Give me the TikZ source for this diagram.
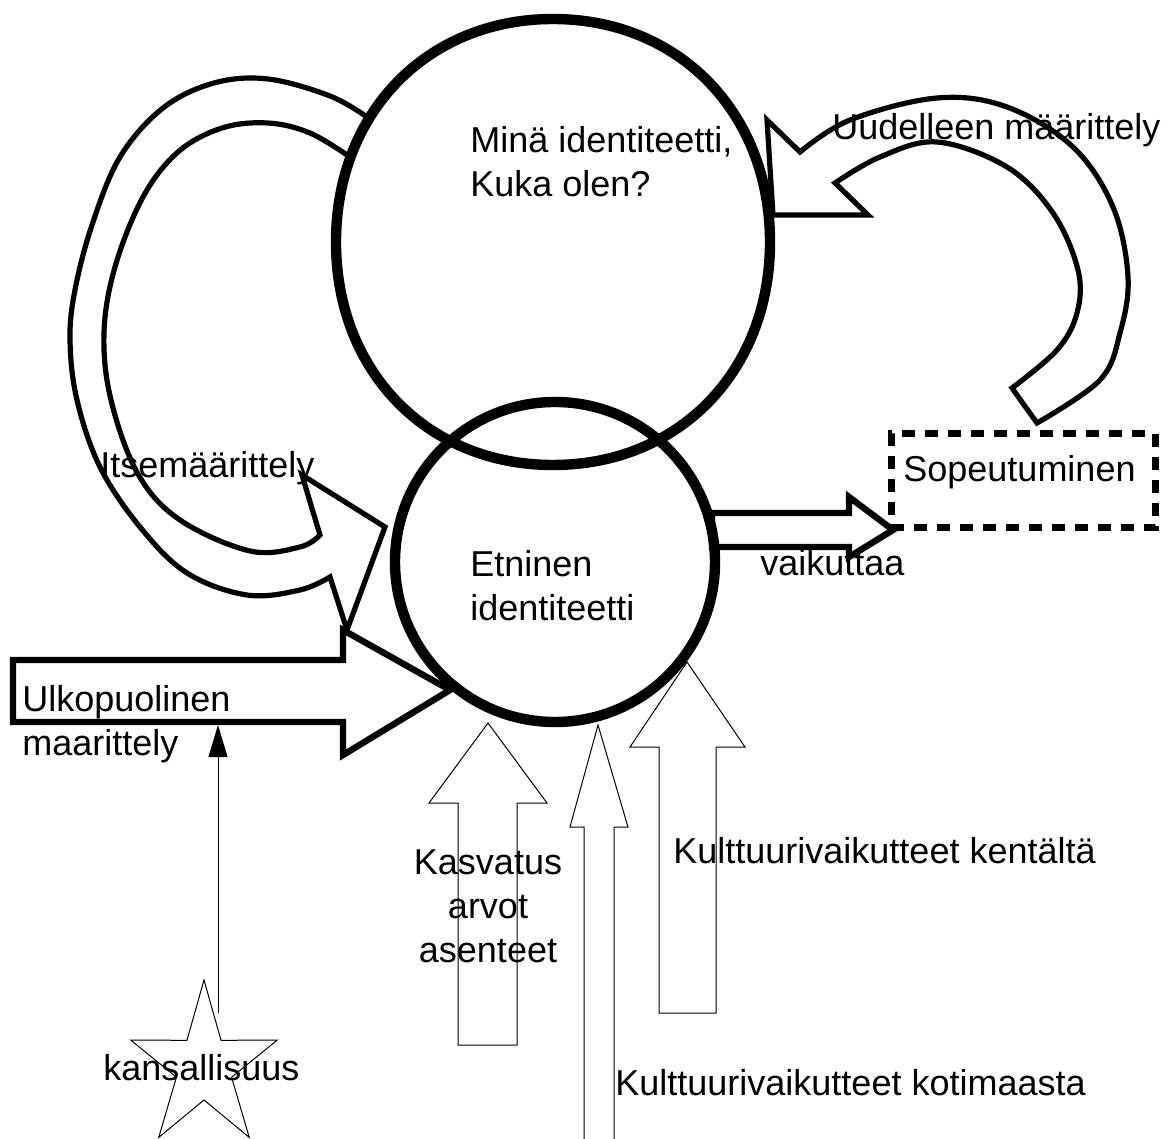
\documentclass[tikz,border=0pt]{standalone}
\usepackage{fontspec}
\setmainfont{Liberation Sans}
\usetikzlibrary{arrows.meta,positioning}
\tikzstyle{ring}=[draw,line width=5.2pt]
\tikzstyle{fatarrow}=[draw,fill=white,line width=3.2pt,line join=miter]
\tikzstyle{bentarrow}=[draw,fill=white,line width=2.6pt,line join=miter]
\tikzstyle{slimarrow}=[draw,line width=0.5pt,line join=miter]
\tikzstyle{dashbox}=[draw,line width=3.5pt,dash pattern=on 6.5pt off 5pt,inner sep=0pt]
\tikzstyle{lbl}=[anchor=base west,align=left,inner sep=0pt]

\begin{document}
\begin{tikzpicture}[x=0.5pt,y=-0.5pt,every node/.style={font=\fontsize{18}{22}\selectfont}]
    \useasboundingbox (0,0) rectangle (1169,1139);

    % curved arrow on the left
    \draw[bentarrow] plot[smooth,tension=0.6] coordinates {(350,157) (310,133) (268,123) (222,128) (178,152)
        (143,197) (115,267) (104,333) (111,400) (138,474) (180,520) (250,551) (300,547) (320,535)}
      -- (302,475) -- (385,527) -- (347,630) -- (330,577)
      -- plot[smooth,tension=0.6] coordinates {(330,577) (300,590) (247,595) (187,573) (140,527) (100,467)
        (77,400) (70,340) (75,290) (92,225) (120,157) (163,108) (214,83) (268,79) (330,96) (367,117)}
      -- cycle;

    % curved arrow on the right
    \draw[bentarrow] (773,215) -- (868,215) -- (835,183)
      -- plot[smooth,tension=0.6] coordinates {(835,183) (880,157) (937,142) (1007,167) (1053,213)
        (1078,270) (1077,313) (1057,350) (1012,388)}
      -- (1037,423)
      -- plot[smooth,tension=0.6] coordinates {(1037,423) (1100,380) (1120,333) (1128,277) (1113,207)
        (1073,147) (1007,107) (937,98) (850,120) (800,152)}
      -- (767,120) -- cycle;

    % straight block arrows
    \draw[fatarrow] (13,660) -- (343,660) -- (343,630) -- (450,690) -- (343,755) -- (343,722) -- (13,722) -- cycle;
    \draw[fatarrow] (712,513) -- (849,513) -- (849,497) -- (893,530) -- (849,557) -- (849,547) -- (712,547) -- cycle;

    % thin arrows from below
    \draw[slimarrow] (458,1045) -- (458,803) -- (429,803) -- (488,723) -- (547,803) -- (517,803) -- (517,1045) -- cycle;
    \draw[slimarrow] (584,1150) -- (584,827) -- (570,827) -- (598,725) -- (628,827) -- (614,827) -- (614,1150);
    \draw[slimarrow] (659,1013) -- (659,747) -- (630,747) -- (687,662) -- (745,747) -- (716,747) -- (716,1013) -- cycle;

    % star
    \draw[slimarrow,shift={(204,1067)}] (-90:77 and 87) -- (-54:29 and 33) -- (-18:77 and 87) -- (18:29 and 33)
      -- (54:77 and 87) -- (90:29 and 33) -- (126:77 and 87) -- (162:29 and 33) -- (198:77 and 87)
      -- (234:29 and 33) -- cycle;
    \coordinate (nationtip) at (218,1013);
    \coordinate (outerfoot) at (218,725);
    \draw[slimarrow,-{Triangle[length=16pt,width=9.5pt]}] (nationtip) -- (outerfoot);

    % circles
    \draw[ring] (553,19) .. controls (678.9,19) and (770,112.7) .. (770,242)
      .. controls (770,371.3) and (678.9,465) .. (553,465)
      .. controls (427.1,465) and (336,371.3) .. (336,242)
      .. controls (336,112.7) and (427.1,19) .. (553,19) -- cycle;
    \coordinate (self) at (553,242);
    \node[ring,circle,minimum size=160pt,inner sep=0pt] (ethnic) at (555,562) {};
    \node[dashbox,minimum width=132pt,minimum height=47pt] (adapt) at (1023,481) {};

    % texts
    \node[lbl] (selflbl) at (470,197) {Minä identiteetti,\\Kuka olen?};
    \node[lbl] (ethniclbl) at (470,620) {Etninen\\identiteetti};
    \node[lbl] (selfdeflbl) at (100,478) {Itsemäärittely};
    \node[lbl] (redeflbl) at (832,140) {Uudelleen määrittely};
    \node[lbl] (adaptlbl) at (903,482) {Sopeutuminen};
    \node[lbl] (affectlbl) at (760,575) {vaikuttaa};
    \node[lbl] (outerlbl) at (22,755) {Ulkopuolinen\\maarittely};
    \node[anchor=base,align=center,inner sep=0pt] (upbringlbl) at (488,962) {Kasvatus\\arvot\\asenteet};
    \node[lbl] (fieldlbl) at (673,863) {Kulttuurivaikutteet kentältä};
    \node[lbl] (homelbl) at (615,1095) {Kulttuurivaikutteet kotimaasta};
    \node[lbl] (nationlbl) at (103,1080) {kansallisuus};
\end{tikzpicture}
\end{document}
